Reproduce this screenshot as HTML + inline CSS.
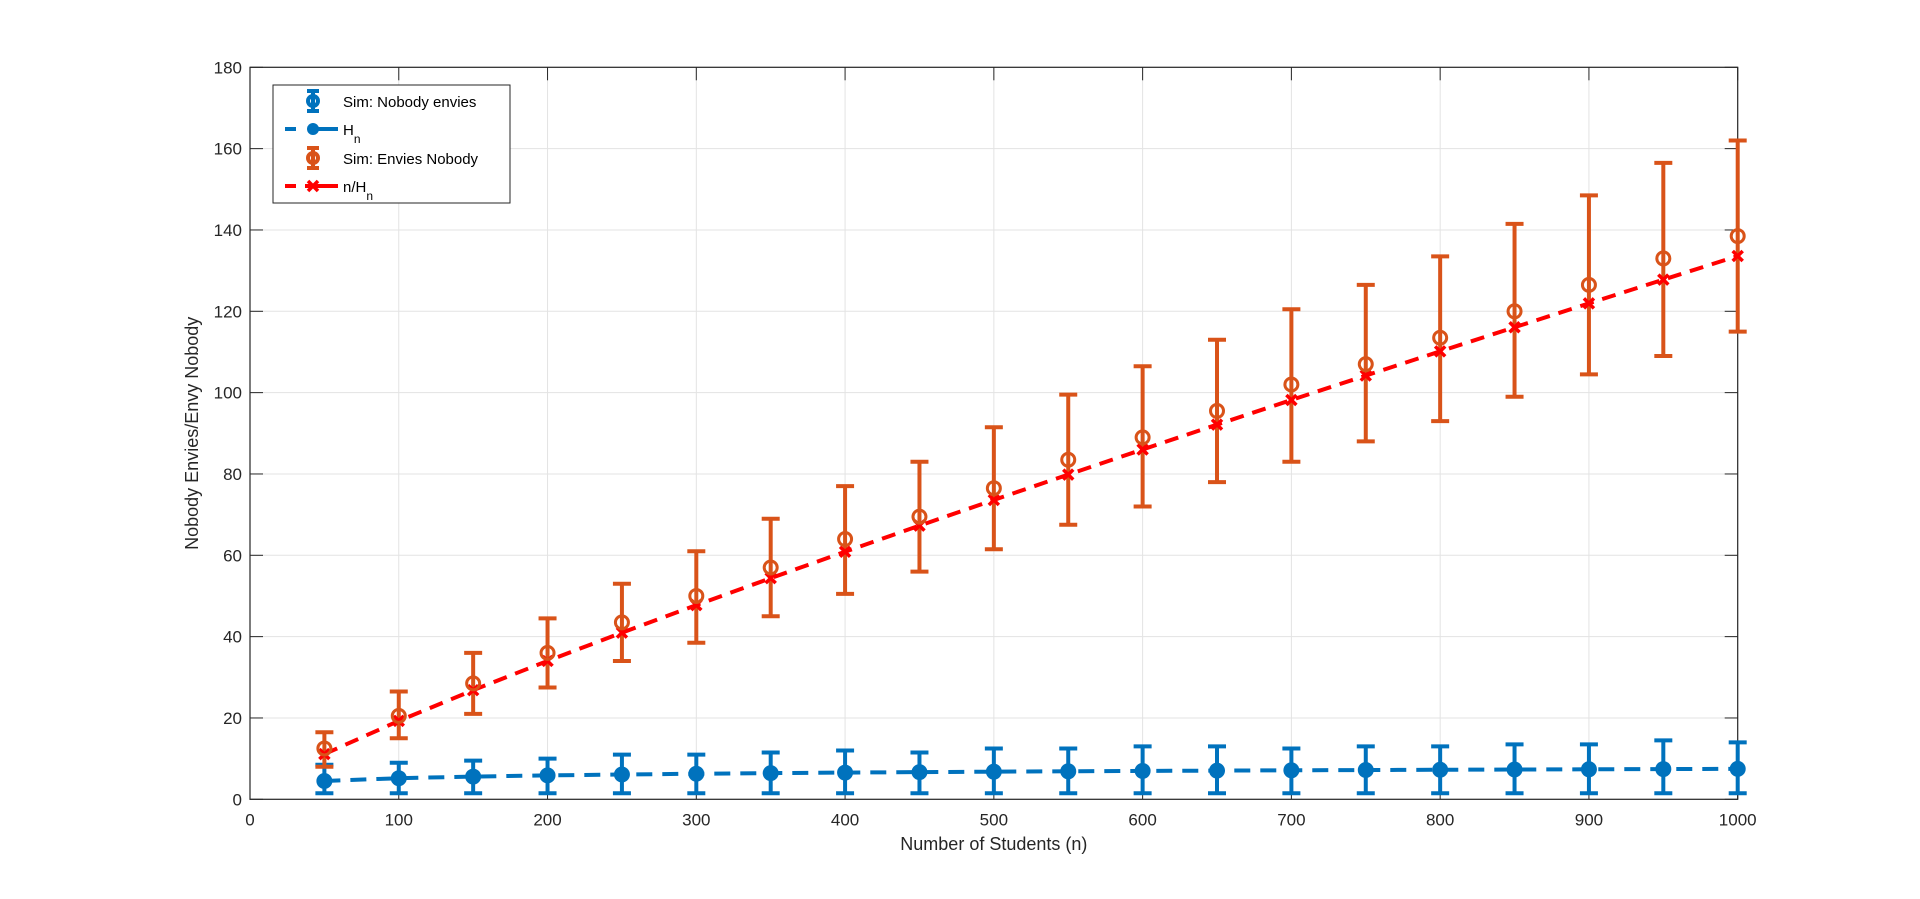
<!DOCTYPE html>
<html><head><meta charset="utf-8"><style>
html,body{margin:0;padding:0;background:#fff;}
svg{display:block;font-family:"Liberation Sans",Arial,sans-serif;}
</style></head><body>
<svg id="s" width="1920" height="899" xmlns="http://www.w3.org/2000/svg"></svg>
<script>
const L=250,R=1737.7,T=67.3,B=799.3;
const X=v=>L+(R-L)*v/1000, Y=v=>B-(B-T)*v/180;
let h='';
for(let i=0;i<=10;i++){const x=X(i*100);h+=`<line x1="${x}" y1="${T}" x2="${x}" y2="${B}" stroke="#e3e3e3" stroke-width="1"/>`;}
for(let i=0;i<=9;i++){const y=Y(i*20);h+=`<line x1="${L}" y1="${y}" x2="${R}" y2="${y}" stroke="#e3e3e3" stroke-width="1"/>`;}
h+=`<rect x="${L}" y="${T}" width="${R-L}" height="${B-T}" fill="none" stroke="#262626" stroke-width="1.2"/>`;
for(let i=0;i<=10;i++){const x=X(i*100);h+=`<line x1="${x}" y1="${B}" x2="${x}" y2="${B-13}" stroke="#262626"/><line x1="${x}" y1="${T}" x2="${x}" y2="${T+13}" stroke="#262626"/><text x="${x}" y="${B+26}" font-size="17" text-anchor="middle" fill="#262626">${i*100}</text>`;}
for(let i=0;i<=9;i++){const y=Y(i*20);h+=`<line x1="${L}" y1="${y}" x2="${L+13}" y2="${y}" stroke="#262626"/><line x1="${R}" y1="${y}" x2="${R-13}" y2="${y}" stroke="#262626"/><text x="${L-8}" y="${y+6}" font-size="17" text-anchor="end" fill="#262626">${i*20}</text>`;}
h+=`<text x="${(L+R)/2}" y="850" font-size="18" text-anchor="middle" fill="#262626">Number of Students (n)</text>`;
h+=`<text transform="translate(198,${(T+B)/2}) rotate(-90)" font-size="18" text-anchor="middle" fill="#262626">Nobody Envies/Envy Nobody</text>`;
const ns=[];for(let n=50;n<=1000;n+=50)ns.push(n);
const H=n=>{let s=0;for(let k=1;k<=n;k++)s+=1/k;return s;};
const om=[12.5,20.5,28.5,36,43.5,50,57,64,69.5,76.5,83.5,89,95.5,102,107,113.5,120,126.5,133,138.5];
const olo=[8,15,21,27.5,34,38.5,45,50.5,56,61.5,67.5,72,78,83,88,93,99,104.5,109,115];
const ohi=[16.5,26.5,36,44.5,53,61,69,77,83,91.5,99.5,106.5,113,120.5,126.5,133.5,141.5,148.5,156.5,162];
const bhi=[8.5,9,9.5,10,11,11,11.5,12,11.5,12.5,12.5,13,13,12.5,13,13,13.5,13.5,14.5,14];
const bl='#0072bd',or='#d95319';
ns.forEach((n,i)=>{const x=X(n);h+=`<g stroke="${bl}" stroke-width="4"><line x1="${x}" y1="${Y(1.5)}" x2="${x}" y2="${Y(bhi[i])}"/><line x1="${x-9}" y1="${Y(1.5)}" x2="${x+9}" y2="${Y(1.5)}"/><line x1="${x-9}" y1="${Y(bhi[i])}" x2="${x+9}" y2="${Y(bhi[i])}"/></g>`;});
h+=`<polyline fill="none" stroke="${bl}" stroke-width="4" stroke-dasharray="16,10" points="${ns.map(n=>X(n)+','+Y(H(n))).join(' ')}"/>`;
ns.forEach(n=>{h+=`<circle cx="${X(n)}" cy="${Y(H(n))}" r="8" fill="${bl}"/>`;});
ns.forEach((n,i)=>{const x=X(n);h+=`<g stroke="${or}" stroke-width="4" fill="none"><line x1="${x}" y1="${Y(olo[i])}" x2="${x}" y2="${Y(ohi[i])}"/><line x1="${x-9}" y1="${Y(olo[i])}" x2="${x+9}" y2="${Y(olo[i])}"/><line x1="${x-9}" y1="${Y(ohi[i])}" x2="${x+9}" y2="${Y(ohi[i])}"/></g>`;});
h+=`<polyline fill="none" stroke="#ff0000" stroke-width="4" stroke-dasharray="14,9" points="${ns.map(n=>X(n)+','+Y(n/H(n))).join(' ')}"/>`;
ns.forEach(n=>{const x=X(n),y=Y(n/H(n));h+=`<g stroke="#ff0000" stroke-width="3.5"><line x1="${x-5}" y1="${y-5}" x2="${x+5}" y2="${y+5}"/><line x1="${x-5}" y1="${y+5}" x2="${x+5}" y2="${y-5}"/></g>`;});
ns.forEach((n,i)=>{h+=`<circle cx="${X(n)}" cy="${Y(om[i])}" r="6.5" fill="none" stroke="${or}" stroke-width="3"/>`;});
const lx=273,ly=85;
h+=`<rect x="${lx}" y="${ly}" width="237" height="118" fill="#fff" stroke="#262626" stroke-width="1"/>`;
function leg(y,col,type){const cx=lx+40;
 if(type=='eb'){h+=`<g stroke="${col}" stroke-width="4" fill="none"><line x1="${cx}" y1="${y-10}" x2="${cx}" y2="${y+10}"/><line x1="${cx-6}" y1="${y-10}" x2="${cx+6}" y2="${y-10}"/><line x1="${cx-6}" y1="${y+10}" x2="${cx+6}" y2="${y+10}"/><circle cx="${cx}" cy="${y}" r="5"/></g>`;}
 else{h+=`<line x1="${cx-28}" y1="${y}" x2="${cx-17}" y2="${y}" stroke="${col}" stroke-width="4"/><line x1="${cx+5}" y1="${y}" x2="${cx+25}" y2="${y}" stroke="${col}" stroke-width="4"/>`;
  if(type=='dot')h+=`<circle cx="${cx}" cy="${y}" r="6" fill="${col}"/>`;
  else h+=`<g stroke="${col}" stroke-width="3.5"><line x1="${cx-5}" y1="${y-5}" x2="${cx+5}" y2="${y+5}"/><line x1="${cx-5}" y1="${y+5}" x2="${cx+5}" y2="${y-5}"/></g><line x1="${cx-8}" y1="${y}" x2="${cx+8}" y2="${y}" stroke="${col}" stroke-width="4"/>`;}
}
leg(101,bl,'eb');leg(129,bl,'dot');leg(158,or,'eb');leg(186,'#ff0000','x');
const tx=lx+70;
h+=`<text x="${tx}" y="107" font-size="15" fill="#000">Sim: Nobody envies</text>`;
h+=`<text x="${tx}" y="135" font-size="15" fill="#000">H<tspan font-size="12" dy="8">n</tspan></text>`;
h+=`<text x="${tx}" y="164" font-size="15" fill="#000">Sim: Envies Nobody</text>`;
h+=`<text x="${tx}" y="192" font-size="15" fill="#000">n/H<tspan font-size="12" dy="8">n</tspan></text>`;
document.getElementById('s').innerHTML=h;
</script>
</body></html>
